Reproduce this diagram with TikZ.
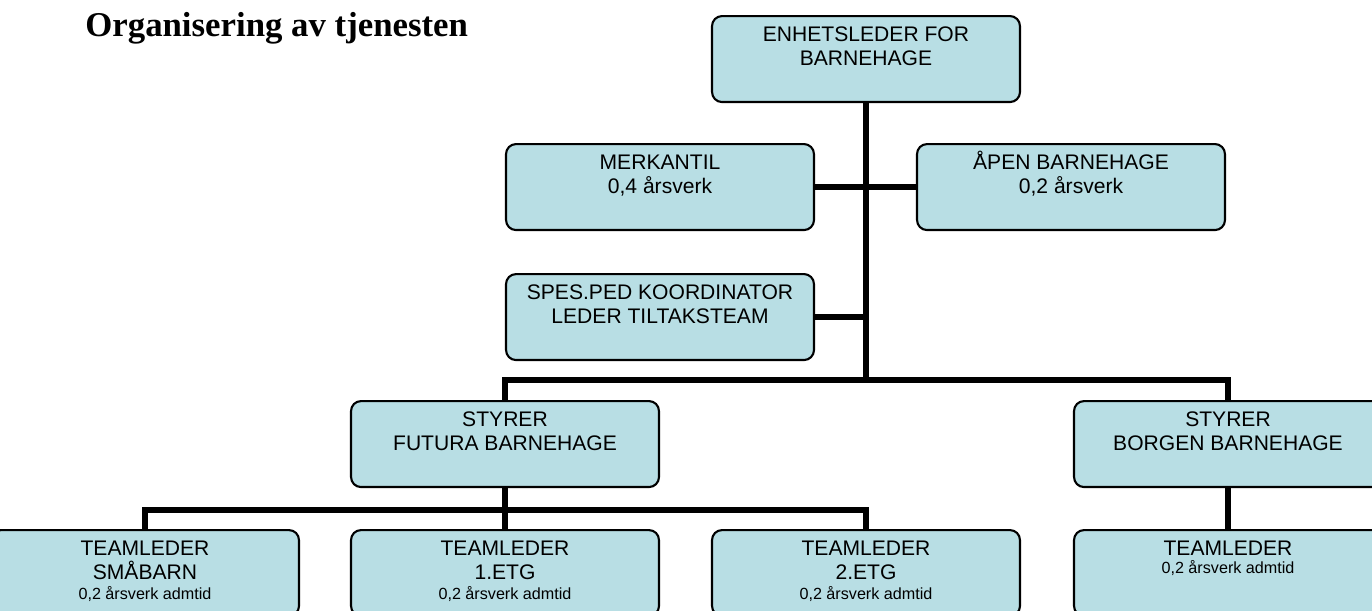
\documentclass[tikz,border=0pt]{standalone}
\usepackage{fontspec}
\setmainfont{Liberation Sans}
\newfontfamily\titlefont{Liberation Serif}
\definecolor{boxblue}{RGB}{184,222,228}
\newcommand{\boxlines}[1]{\parbox[c][1.72cm][t]{6.16cm}{\centering\rule{0pt}{0.51cm}#1}}
\newcommand{\admline}[1]{{\fontsize{9.2}{11}\selectfont #1}}

\begin{document}
\begin{tikzpicture}[x=0.02cm,y=-0.02cm,
   orgbox/.style={draw=black,line width=1.2pt,fill=boxblue,rounded corners=0.2cm,
      inner sep=0pt,anchor=north,font=\fontsize{12}{13.5}\selectfont},
   link/.style={line width=3.4pt}]
   \path[use as bounding box,clip] (0,0) rectangle (1372,610);

   \node[anchor=base west,inner sep=0pt,font=\titlefont\bfseries\fontsize{19.8}{24}\selectfont] (title) at (85,36) {Organisering av tjenesten};

   \node[orgbox] (leder) at (866,15) {\boxlines{ENHETSLEDER FOR\\BARNEHAGE}};
   \node[orgbox] (merkantil) at (660,143) {\boxlines{MERKANTIL\\0,4 årsverk}};
   \node[orgbox] (apen) at (1071,143) {\boxlines{ÅPEN BARNEHAGE\\0,2 årsverk}};
   \node[orgbox] (spes) at (660,273) {\boxlines{SPES.PED KOORDINATOR\\LEDER TILTAKSTEAM}};

   \node[orgbox] (futura) at (505,400) {\boxlines{STYRER\\FUTURA BARNEHAGE}};
   \node[orgbox] (borgen) at (1228,400) {\boxlines{STYRER\\BORGEN BARNEHAGE}};

   \node[orgbox] (smabarn) at (145,529) {\boxlines{TEAMLEDER\\SMÅBARN\\[-0.08cm]\admline{0,2 årsverk admtid}}};
   \node[orgbox] (etg1) at (505,529) {\boxlines{TEAMLEDER\\1.ETG\\[-0.08cm]\admline{0,2 årsverk admtid}}};
   \node[orgbox] (etg2) at (866,529) {\boxlines{TEAMLEDER\\2.ETG\\[-0.08cm]\admline{0,2 årsverk admtid}}};
   \node[orgbox] (teamborgen) at (1228,529) {\boxlines{TEAMLEDER\\[-0.11cm]\admline{0,2 årsverk admtid}}};

   \coordinate (hub) at (866,380);
   \coordinate (hub2) at (505,510);
   \draw[link] (leder.south) -- (hub);
   \draw[link] (merkantil.east) -- (apen.west);
   \draw[link] (spes.east) -- (spes.east -| hub);
   \draw[link] (futura.north) |- (hub) -| (borgen.north);
   \draw[link] (futura.south) -- (etg1.north);
   \draw[link] (smabarn.north) |- (hub2) -| (etg2.north);
   \draw[link] (borgen.south) -- (teamborgen.north);
\end{tikzpicture}
\end{document}
